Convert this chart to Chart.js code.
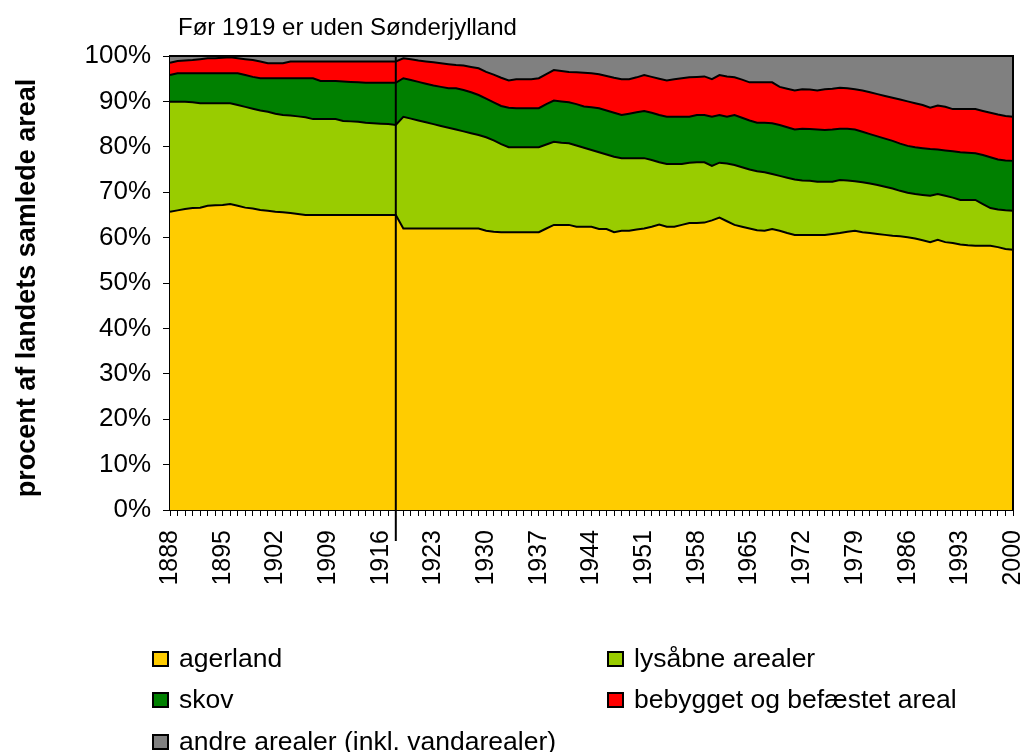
<!DOCTYPE html>
<html>
<head>
<meta charset="utf-8">
<script src="https://cdn.jsdelivr.net/npm/chart.js@4"></script>
<style>
    body { margin: 0; background: #fff; font-family: "Liberation Sans", Arial, Helvetica, sans-serif; }
    #wrap { position: relative; width: 1023px; height: 752px; }
    #legend .item { position: absolute; display: flex; align-items: center; font-size: 26.5px; color: #000; white-space: nowrap; }
    #legend .box { width: 13px; height: 12px; border: 2px solid #000; margin-right: 10px; }
</style>
</head>
<body>
<div id="wrap">
    <canvas id="arealChart" width="1023" height="752"></canvas>
    <div id="legend"></div>
</div>
<script>
const years = [
    1888, 1889, 1890, 1891, 1892, 1893, 1894, 1895, 1896, 1897,
    1898, 1899, 1900, 1901, 1902, 1903, 1904, 1905, 1906, 1907,
    1908, 1909, 1910, 1911, 1912, 1913, 1914, 1915, 1916, 1917,
    1918,
    1919, 1920, 1921, 1922, 1923, 1924, 1925, 1926, 1927, 1928, 1929,
    1930, 1931, 1932, 1933, 1934, 1935, 1936, 1937,
    1938, 1939, 1940, 1941, 1942, 1943, 1944, 1945, 1946, 1947,
    1948, 1949, 1950, 1951, 1952, 1953, 1954, 1955, 1956, 1957,
    1958, 1959, 1960, 1961, 1962, 1963, 1964, 1965, 1966, 1967,
    1968, 1969, 1970, 1971, 1972, 1973, 1974, 1975, 1976, 1977,
    1978, 1979, 1980, 1981, 1982, 1983, 1984, 1985, 1986, 1987,
    1988, 1989, 1990, 1991, 1992, 1993, 1994, 1995, 1996, 1997,
    1998, 1999, 2000
];

const shownYears = [1888, 1895, 1902, 1909, 1916, 1923, 1930, 1937, 1944, 1951, 1958, 1965, 1972, 1979, 1986, 1993, 2000];

// percent of total land area
const agerland = [
    65.7, 66.0, 66.3, 66.5, 66.6, 67.0, 67.1, 67.2, 67.4, 67.0,
    66.6, 66.4, 66.1, 65.9, 65.7, 65.6, 65.4, 65.2, 65.0, 65.0,
    65.0, 65.0, 65.0, 65.0, 65.0, 65.0, 65.0, 65.0, 65.0, 65.0,
    65.0,
    62.0, 62.0, 62.0, 62.0, 62.0, 62.0, 62.0, 62.0, 62.0, 62.0, 62.0,
    61.5, 61.3, 61.2, 61.2, 61.2, 61.2, 61.2, 61.2,
    62.0, 62.8, 62.8, 62.8, 62.4, 62.4, 62.4, 61.9, 61.9, 61.2,
    61.5, 61.5, 61.8, 62.0, 62.4, 62.9, 62.4, 62.4, 62.8, 63.2,
    63.2, 63.3, 63.8, 64.4, 63.6, 62.8, 62.4, 62.0, 61.6, 61.5,
    61.9, 61.5, 61.0, 60.6, 60.6, 60.6, 60.6, 60.6, 60.8, 61.0,
    61.3, 61.5, 61.2, 61.0, 60.8, 60.6, 60.4, 60.3, 60.1, 59.8,
    59.4, 59.0, 59.5, 59.0, 58.8, 58.5, 58.3, 58.2, 58.2, 58.2,
    57.9, 57.5, 57.3
];

const lysaabne = [
    24.2, 23.9, 23.6, 23.3, 23.0, 22.6, 22.5, 22.4, 22.2, 22.2,
    22.2, 22.0, 21.9, 21.8, 21.6, 21.4, 21.5, 21.5, 21.5, 21.1,
    21.1, 21.1, 21.1, 20.7, 20.6, 20.5, 20.3, 20.2, 20.1, 20.0,
    19.8,
    24.6, 24.2, 23.8, 23.4, 23.0, 22.6, 22.2, 21.8, 21.4, 21.0, 20.6,
    20.6, 20.1, 19.4, 18.7, 18.7, 18.7, 18.7, 18.7,
    18.5, 18.3, 18.1, 18.0, 17.9, 17.4, 16.9, 16.9, 16.4, 16.6,
    16.0, 16.0, 15.7, 15.5, 14.7, 13.7, 13.8, 13.8, 13.4, 13.3,
    13.4, 13.3, 12.0, 12.1, 12.7, 13.2, 13.1, 13.0, 13.0, 12.9,
    12.1, 12.1, 12.2, 12.2, 12.0, 11.9, 11.7, 11.7, 11.5, 11.7,
    11.3, 10.9, 11.0, 10.9, 10.8, 10.6, 10.4, 10.0, 9.8, 9.8,
    10.0, 10.2, 10.1, 10.2, 10.0, 9.8, 10.0, 10.1, 9.2, 8.3,
    8.3, 8.5, 8.6
];

const skov = [
    5.9, 6.3, 6.3, 6.4, 6.6, 6.6, 6.6, 6.6, 6.6, 7.0,
    7.0, 7.0, 7.1, 7.4, 7.8, 8.1, 8.2, 8.4, 8.6, 9.0,
    8.4, 8.4, 8.4, 8.7, 8.7, 8.7, 8.8, 8.9, 9.0, 9.1,
    9.3,
    8.5, 8.5, 8.5, 8.5, 8.5, 8.6, 8.7, 9.1, 9.1, 9.0, 8.8,
    8.5, 8.4, 8.4, 8.7, 8.6, 8.6, 8.6, 8.6,
    8.9, 9.1, 9.1, 9.0, 9.1, 9.1, 9.4, 9.7, 9.7, 9.7,
    9.5, 9.8, 10.1, 10.4, 10.4, 10.4, 10.4, 10.4, 10.4, 10.1,
    10.4, 10.4, 10.8, 10.5, 10.3, 11.0, 10.9, 10.8, 10.7, 10.9,
    11.2, 11.2, 11.1, 11.0, 11.4, 11.4, 11.5, 11.4, 11.5, 11.3,
    11.4, 11.4, 11.1, 10.9, 10.7, 10.6, 10.5, 10.4, 10.3, 10.3,
    10.3, 10.3, 9.8, 10.0, 10.2, 10.5, 10.4, 10.3, 10.8, 11.2,
    11.0, 11.0, 11.0
];

const bebygget = [
    2.7, 2.7, 2.8, 2.9, 3.1, 3.3, 3.3, 3.4, 3.5, 3.3,
    3.5, 3.7, 3.7, 3.3, 3.3, 3.3, 3.7, 3.7, 3.7, 3.7,
    4.3, 4.3, 4.3, 4.4, 4.5, 4.6, 4.7, 4.7, 4.7, 4.7,
    4.7,
    4.4, 4.6, 4.7, 4.9, 5.1, 5.2, 5.3, 5.1, 5.4, 5.6, 5.9,
    5.9, 6.1, 6.2, 6.0, 6.4, 6.4, 6.4, 6.6,
    6.6, 6.7, 6.7, 6.7, 7.0, 7.4, 7.5, 7.5, 7.6, 7.7,
    7.9, 7.6, 7.7, 7.9, 7.9, 8.0, 8.0, 8.3, 8.5, 8.7,
    8.4, 8.5, 8.3, 8.8, 8.9, 8.3, 8.4, 8.4, 8.9, 8.9,
    9.0, 8.4, 8.5, 8.6, 8.7, 8.7, 8.6, 9.0, 9.0, 9.0,
    8.9, 8.9, 9.1, 9.2, 9.3, 9.4, 9.5, 9.7, 9.8, 9.7,
    9.5, 9.1, 9.7, 9.6, 9.3, 9.5, 9.6, 9.7, 9.7, 9.8,
    9.9, 9.8, 9.7
];

const andre = [
    1.5, 1.1, 1.0, 0.9, 0.7, 0.5, 0.5, 0.4, 0.3, 0.5,
    0.7, 0.9, 1.2, 1.6, 1.6, 1.6, 1.2, 1.2, 1.2, 1.2,
    1.2, 1.2, 1.2, 1.2, 1.2, 1.2, 1.2, 1.2, 1.2, 1.2,
    1.2,
    0.5, 0.7, 1.0, 1.2, 1.4, 1.6, 1.8, 2.0, 2.1, 2.4, 2.7,
    3.5, 4.1, 4.8, 5.4, 5.1, 5.1, 5.1, 4.9,
    4.0, 3.1, 3.3, 3.5, 3.6, 3.7, 3.8, 4.0, 4.4, 4.8,
    5.1, 5.1, 4.7, 4.2, 4.6, 5.0, 5.4, 5.1, 4.9, 4.7,
    4.6, 4.5, 5.1, 4.2, 4.5, 4.7, 5.2, 5.8, 5.8, 5.8,
    5.8, 6.8, 7.2, 7.6, 7.3, 7.4, 7.6, 7.3, 7.2, 7.0,
    7.1, 7.3, 7.6, 8.0, 8.4, 8.8, 9.2, 9.6, 10.0, 10.4,
    10.8, 11.4, 10.9, 11.2, 11.7, 11.7, 11.7, 11.7, 12.1, 12.5,
    12.9, 13.2, 13.4
];

const seriesNames = ['agerland', 'lysåbne arealer', 'skov', 'bebygget og befæstet areal', 'andre arealer (inkl. vandarealer)'];
const seriesColors = ['#FFCC00', '#99CC00', '#008000', '#FF0000', '#808080'];
const breakYear = 1918; // Sønderjylland included from 1919

const fontFamily = '"Liberation Sans", Arial, Helvetica, sans-serif';

// vertical marker at the 1918/1919 break, plot frame, axis title and note at the top
const extrasPlugin = {
    id: 'extras',
    afterDatasetsDraw(chart) {
        const ctx = chart.ctx;
        const area = chart.chartArea;
        const x = chart.scales.x.getPixelForValue(years.indexOf(breakYear));
        ctx.save();
        ctx.strokeStyle = '#000';
        ctx.lineWidth = 2;
        ctx.beginPath();
        ctx.moveTo(x, area.top);
        ctx.lineTo(x, area.bottom + 31);
        ctx.stroke();

        ctx.beginPath();
        ctx.moveTo(area.left, area.top);
        ctx.lineTo(area.right, area.top);
        ctx.lineTo(area.right, area.bottom);
        ctx.stroke();

        ctx.fillStyle = '#000';
        ctx.font = '24px ' + fontFamily;
        ctx.textBaseline = 'middle';
        ctx.fillText('Før 1919 er uden Sønderjylland', 178, 28);

        ctx.translate(28, 288);
        ctx.rotate(-Math.PI / 2);
        ctx.textAlign = 'center';
        ctx.font = 'bold 27px ' + fontFamily;
        ctx.fillText('procent af landets samlede areal', 0, 0);
        ctx.restore();
    }
};

const seriesData = [agerland, lysaabne, skov, bebygget, andre];

const datasets = seriesNames.map((name, i) => ({
    label: name,
    data: seriesData[i],
    backgroundColor: seriesColors[i],
    borderColor: '#000',
    borderWidth: 2,
    pointRadius: 0,
    tension: 0,
    fill: i === 0 ? 'origin' : '-1'
}));

new Chart(document.getElementById('arealChart'), {
    type: 'line',
    data: { labels: years, datasets: datasets },
    options: {
        responsive: false,
        animation: false,
        layout: { padding: { top: 56, right: 10, bottom: 132, left: 0 } },
        plugins: {
            legend: { display: false },
            tooltip: { enabled: false }
        },
        scales: {
            x: {
                offset: false,
                grid: { drawOnChartArea: false, drawTicks: true, tickLength: 6, color: '#000', lineWidth: 1 },
                border: { display: true, color: '#000', width: 2 },
                ticks: {
                    autoSkip: false,
                    minRotation: 90,
                    maxRotation: 90,
                    padding: 14,
                    color: '#000',
                    font: { family: fontFamily, size: 25 },
                    callback: function (value) {
                        const y = years[value];
                        return shownYears.includes(y) ? String(y) : '';
                    }
                },
                afterFit: scale => {
                    scale.height = 110;
                    scale.paddingLeft = 0;
                    scale.paddingRight = 0;
                }
            },
            y: {
                stacked: true,
                min: 0,
                max: 100,
                grid: { drawOnChartArea: false, drawTicks: true, tickLength: 7, color: '#000', lineWidth: 1 },
                border: { display: true, color: '#000', width: 2 },
                ticks: {
                    stepSize: 10,
                    padding: 12,
                    color: '#000',
                    font: { family: fontFamily, size: 26 },
                    callback: v => v + '%'
                },
                afterFit: scale => {
                    scale.width = 170;
                }
            }
        }
    },
    plugins: [extrasPlugin]
});

// legend in two columns like the original
const legendPos = [
    { left: 152, top: 643 },
    { left: 607, top: 643 },
    { left: 152, top: 684 },
    { left: 607, top: 684 },
    { left: 152, top: 726 }
];
const legendEl = document.getElementById('legend');
seriesNames.forEach((name, i) => {
    const item = document.createElement('div');
    item.className = 'item';
    item.style.left = legendPos[i].left + 'px';
    item.style.top = legendPos[i].top + 'px';
    item.innerHTML = `<span class="box" style="background:${seriesColors[i]}"></span><span>${name}</span>`;
    legendEl.appendChild(item);
});
</script>
</body>
</html>
